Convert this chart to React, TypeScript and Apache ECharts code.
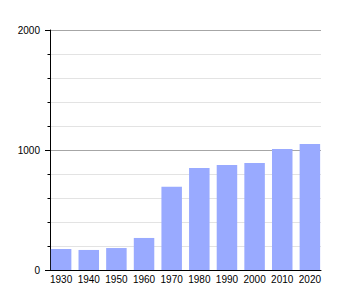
import React, { useEffect, useRef } from "react";
import * as echarts from "echarts";

const years = ["1930", "1940", "1950", "1960", "1970", "1980", "1990", "2000", "2010", "2020"];
const population = [175, 167, 183, 267, 694, 850, 875, 892, 1008, 1050];
const yMin = 0;
const yMax = 2000;
const yInterval = 1000;

export default function App() {
  const ref = useRef<HTMLDivElement>(null);
  useEffect(() => {
    if (!ref.current) return;
    const chart = echarts.init(ref.current, null, { renderer: "svg" });
    const font = { fontFamily: "Liberation Sans, Arial, sans-serif", fontSize: 10, color: "#000" };
    chart.setOption({
      animation: false,
      backgroundColor: "#fff",
      grid: [
        { left: 50, right: 29, top: 30, bottom: 30, containLabel: false },
        { left: 47.3, right: 26.3, top: 30, bottom: 30, containLabel: false },
      ],
      xAxis: [
        {
          gridIndex: 0,
          type: "category",
          data: years,
          boundaryGap: true,
          axisLine: { show: true, lineStyle: { color: "#000", width: 1 } },
          axisTick: { show: false },
          axisLabel: { show: false },
          splitLine: { show: false },
          z: 5,
        },
        {
          gridIndex: 1,
          type: "category",
          data: years,
          boundaryGap: true,
          axisLine: { show: false },
          axisTick: { show: false },
          axisLabel: { ...font, margin: 4, interval: 0 },
          splitLine: { show: false },
        },
      ],
      yAxis: [
        {
          gridIndex: 0,
          type: "value",
          min: yMin,
          max: yMax,
          interval: yInterval,
          axisLine: { show: true, lineStyle: { color: "#000", width: 1 } },
          axisTick: { show: true, length: 5, lineStyle: { color: "#000" } },
          minorTick: { show: true, splitNumber: 5, length: 2.5, lineStyle: { color: "#000" } },
          axisLabel: { ...font, margin: 10, formatter: (v: number) => String(v) },
          splitLine: { show: true, lineStyle: { color: "#a6a6a6", width: 1 } },
          minorSplitLine: { show: true, lineStyle: { color: "#e3e3e3", width: 1 } },
        },
        {
          gridIndex: 1,
          type: "value",
          min: yMin,
          max: yMax,
          show: false,
          splitLine: { show: false },
        },
      ],
      series: [
        {
          type: "bar",
          xAxisIndex: 1,
          yAxisIndex: 1,
          data: population,
          barWidth: 20.5,
          itemStyle: { color: "#99aaff" },
          z: 2,
        },
      ],
    });
    return () => chart.dispose();
  }, []);
  return <div ref={ref} style={{ width: 350, height: 300, position: "absolute", left: 0, top: 0 }} />;
}
